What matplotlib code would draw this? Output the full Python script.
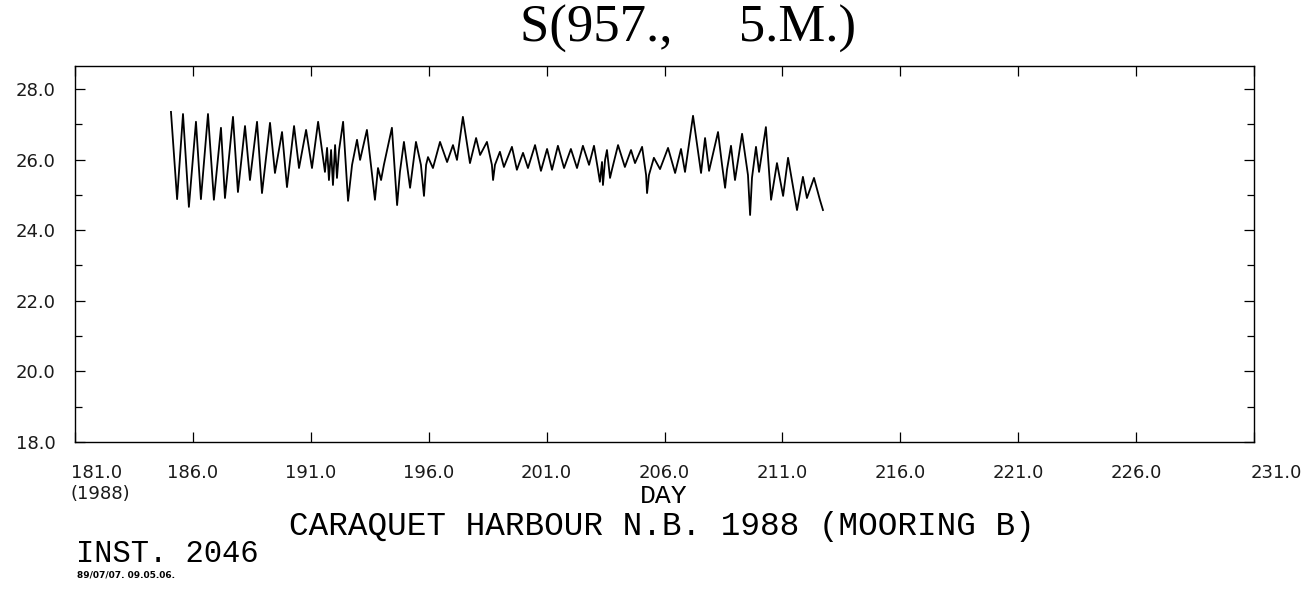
#!/usr/bin/env python
# -*- coding: utf-8 -*-
"""
plot.py
-------
Salinity record S(957., 5.M.), Caraquet Harbour N.B. 1988 (mooring B), inst. 2046.
Writes out.png
"""

import numpy as np
import matplotlib
matplotlib.use("Agg")
import matplotlib.pyplot as plt
from matplotlib.ticker import MultipleLocator
import matplotlib.transforms as mtransforms

# --- data (day of year 1988, salinity) ---
day = [
    185.07, 185.33, 185.58, 185.83, 186.13, 186.34, 186.64, 186.89, 187.19, 187.36,
    187.70, 187.91, 188.21, 188.42, 188.72, 188.93, 189.27, 189.48, 189.78, 189.99,
    190.29, 190.50, 190.80, 191.05, 191.31, 191.60, 191.69, 191.77, 191.86, 191.94,
    192.03, 192.11, 192.20, 192.37, 192.58, 192.75, 192.96, 193.09, 193.38, 193.55,
    193.72, 193.85, 193.98, 194.10, 194.44, 194.66, 194.78, 194.95, 195.21, 195.46,
    195.67, 195.80, 195.89, 195.97, 196.18, 196.48, 196.78, 197.03, 197.20, 197.45,
    197.75, 198.01, 198.18, 198.47, 198.68, 198.73, 198.81, 199.02, 199.19, 199.53,
    199.74, 200.00, 200.21, 200.51, 200.76, 201.02, 201.23, 201.48, 201.74, 202.03,
    202.29, 202.54, 202.80, 203.01, 203.18, 203.26, 203.35, 203.39, 203.48, 203.56,
    203.69, 203.77, 204.03, 204.32, 204.58, 204.75, 205.05, 205.22, 205.26, 205.34,
    205.55, 205.81, 206.15, 206.45, 206.70, 206.87, 207.21, 207.55, 207.72, 207.89,
    208.27, 208.44, 208.57, 208.65, 208.82, 208.99, 209.29, 209.54, 209.63, 209.71,
    209.88, 210.01, 210.30, 210.52, 210.77, 211.03, 211.24, 211.62, 211.87, 212.04,
    212.34, 212.59, 212.72,
]
salinity = [
    27.35, 24.88, 27.29, 24.66, 27.07, 24.88, 27.29, 24.86, 26.90, 24.91,
    27.21, 25.08, 26.95, 25.42, 27.07, 25.05, 27.04, 25.62, 26.78, 25.22,
    26.95, 25.76, 26.84, 25.76, 27.07, 25.65, 26.33, 25.42, 26.27, 25.28,
    26.41, 25.48, 26.27, 27.07, 24.83, 25.85, 26.56, 25.99, 26.84, 25.85,
    24.86, 25.76, 25.42, 25.85, 26.90, 24.71, 25.65, 26.50, 25.20, 26.50,
    25.85, 24.97, 25.85, 26.07, 25.76, 26.50, 25.93, 26.41, 25.99, 27.21,
    25.90, 26.61, 26.13, 26.50, 25.85, 25.42, 25.85, 26.22, 25.79, 26.36,
    25.71, 26.19, 25.76, 26.41, 25.68, 26.30, 25.71, 26.39, 25.76, 26.30,
    25.76, 26.39, 25.85, 26.39, 25.71, 25.37, 25.93, 25.28, 25.99, 26.27,
    25.48, 25.71, 26.41, 25.79, 26.27, 25.90, 26.36, 25.56, 25.05, 25.56,
    26.05, 25.73, 26.33, 25.62, 26.30, 25.65, 27.24, 25.62, 26.61, 25.68,
    26.78, 25.85, 25.20, 25.71, 26.39, 25.42, 26.73, 25.56, 24.43, 25.48,
    26.36, 25.65, 26.92, 24.86, 25.90, 24.97, 26.05, 24.57, 25.51, 24.91,
    25.48, 24.86, 24.57,
]

x_ticks = [181.0, 186.0, 191.0, 196.0, 201.0, 206.0, 211.0, 216.0, 221.0, 226.0, 231.0]
y_ticks = [18.0, 20.0, 22.0, 24.0, 26.0, 28.0]

title = "S(957.,     5.M.)"
xlabel = "DAY"
year_label = "(1988)"
station = "CARAQUET HARBOUR N.B. 1988 (MOORING B)"
inst = "INST. 2046"
stamp = "89/07/07. 09.05.06."

W, H = 1310, 609


def fx(px):
    return px / W


def fy(py):
    return 1.0 - py / H


fig = plt.figure(figsize=(W / 100, H / 100), dpi=100)
ax = fig.add_axes([fx(75), fy(442), fx(1254) - fx(75), fy(66) - fy(442)])

ax.plot(day, salinity, color="black", linewidth=1.3)

ax.set_xlim(181.0, 231.0)
ax.set_ylim(18.0, 28.65)

ax.set_xticks(x_ticks)
ax.set_xticklabels([f"{v:.1f}" for v in x_ticks])
ax.set_yticks(y_ticks)
ax.set_yticklabels([f"{v:.1f}" for v in y_ticks])
ax.yaxis.set_minor_locator(MultipleLocator(1.0))

ax.tick_params(axis="both", which="major", direction="in", length=7, width=0.9,
               top=True, right=True, labelsize=13, colors="black")
ax.tick_params(axis="y", which="minor", direction="in", length=5, width=0.9, right=True)
ax.tick_params(axis="x", which="major", pad=16)
ax.tick_params(axis="y", which="major", pad=14)
for lab in ax.get_xticklabels() + ax.get_yticklabels():
    lab.set_fontfamily("DejaVu Sans")
    lab.set_color("#1a1a1a")

# end labels on the x axis sit a little to the right of their ticks
xl = ax.get_xticklabels()
shift = mtransforms.ScaledTranslation(22 / 100, 0, fig.dpi_scale_trans)
xl[0].set_transform(xl[0].get_transform() + shift)
xl[-1].set_transform(xl[-1].get_transform() + shift)

for sp in ax.spines.values():
    sp.set_linewidth(1.0)
    sp.set_color("black")

fig.text(fx(688), fy(42), title, ha="center", va="baseline",
         family="Liberation Serif", fontsize=38)
fig.text(fx(100), fy(494), year_label, ha="center", va="center",
         family="DejaVu Sans", fontsize=13, color="#1a1a1a")
fig.text(fx(664), fy(496), xlabel, ha="center", va="center",
         family="Liberation Mono", fontsize=19)
fig.text(fx(662), fy(526), station, ha="center", va="center",
         family="Liberation Mono", fontsize=23.5)
fig.text(fx(76), fy(554), inst, ha="left", va="center",
         family="Liberation Mono", fontsize=22)
fig.text(fx(77), fy(575), stamp, ha="left", va="center",
         family="DejaVu Sans", fontsize=6.5, fontweight="bold")

fig.savefig("out.png", dpi=100)
